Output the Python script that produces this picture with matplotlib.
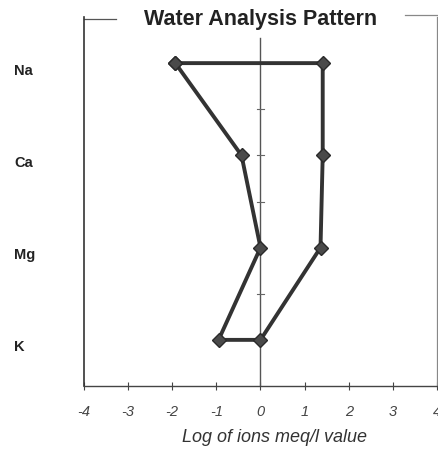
import matplotlib
matplotlib.use("Agg")
import matplotlib.pyplot as plt
import matplotlib.transforms as mtransforms

ions = ["Na", "Ca", "Mg", "K"]
left_values = [-1.93, -0.43, 0.0, -0.95]
right_values = [1.41, 1.41, 1.36, 0.0]
xticks = [-4, -3, -2, -1, 0, 1, 2, 3, 4]
title = "Water Analysis Pattern"
xlabel = "Log of ions meq/l value"

plt.rcParams['font.family'] = ['Liberation Sans', 'DejaVu Sans']

fig = plt.figure(figsize=(4.39, 4.49), dpi=100)
L, R, T, B = 84, 437, 17, 386
W, H = 439, 449
ax = fig.add_axes([L / W, 1 - B / H, (R - L) / W, (B - T) / H])

n = len(ions)
ypos = [n - i for i in range(n)]  # Na top

# polygon: left side top->bottom, then right side bottom->top, close
xs = [left_values[0]] + right_values + left_values[::-1]
ys = [ypos[0]] + ypos + ypos[::-1]
ax.plot(xs, ys, color="#333333", lw=2.8, marker="D", markersize=7,
        markerfacecolor="#4a4a4a", markeredgecolor="#2a2a2a", zorder=3,
        solid_joinstyle="round")

# centre line with half-unit ticks
ax.plot([0, 0], [0.5, 4.27], color="#555555", lw=1.0, zorder=2)
for yv in [1, 1.5, 2, 2.5, 3, 3.5, 4]:
    ax.plot([-0.07, 0.07], [yv, yv], color="#666666", lw=0.8, zorder=2)

ax.set_xlim(-4, 4)
ax.set_ylim(0.5, 4.5)
ax.set_xticks(xticks)
ax.set_xticklabels([str(t) for t in xticks], fontsize=10.5, style="italic", color="#333333")
ax.set_yticks([])
ax.tick_params(axis="x", direction="inout", length=6, width=0.8, pad=11, colors="#444444")

ax.spines["top"].set_visible(False)
ax.spines["left"].set_color("#333333")
ax.spines["left"].set_linewidth(1.2)
ax.spines["bottom"].set_color("#444444")
ax.spines["bottom"].set_linewidth(1.0)
ax.spines["right"].set_color("#888888")
ax.spines["right"].set_linewidth(0.9)

# partial top frame
ax.plot([0, 0.09], [0.994, 0.994], transform=ax.transAxes, color="#555555", lw=0.9, clip_on=False)
ax.plot([0.91, 1], [1.005, 1.005], transform=ax.transAxes, color="#888888", lw=0.9, clip_on=False)

# ion labels
lab_tr = mtransforms.blended_transform_factory(fig.transFigure, ax.transData)
for name, y in zip(ions, ypos):
    ax.text(14 / W, y - 0.08, name, transform=lab_tr,
            fontsize=10.5, fontweight="bold", color="#222222", ha="left", va="center")

fig.text(261 / W, 1 - 20 / H, title, fontsize=15.5, fontweight="bold",
         color="#222222", ha="center", va="center")
fig.text(275 / W, 1 - 438 / H, xlabel, fontsize=13, style="italic",
         color="#333333", ha="center", va="center")

fig.savefig("out.png", dpi=100)
